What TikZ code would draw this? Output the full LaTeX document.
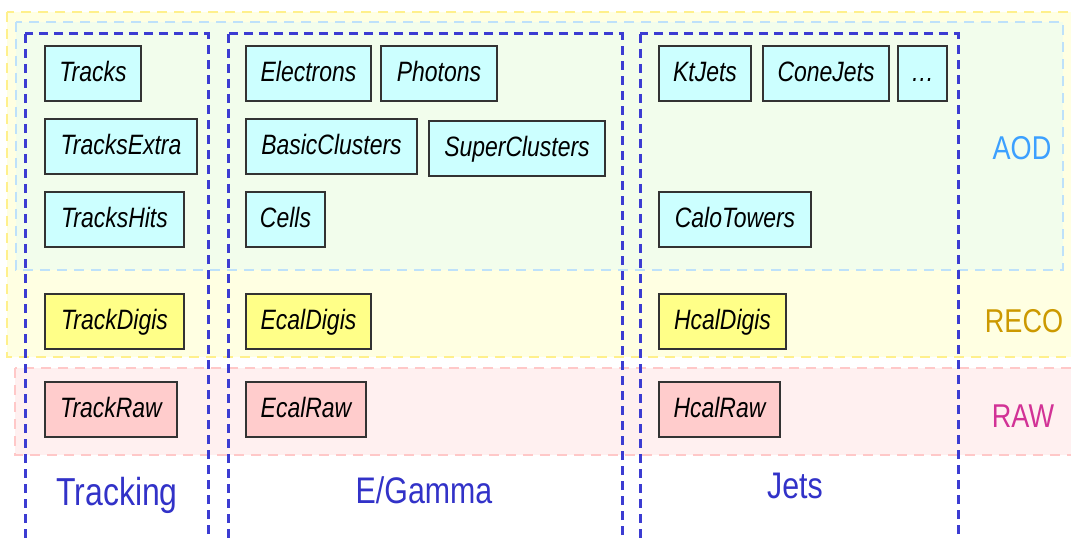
\documentclass[tikz,border=0pt]{standalone}
\usepackage{fontspec}
\setsansfont[FakeStretch=0.82]{Liberation Sans}
\usepackage{xcolor}
\definecolor{aodFill}{RGB}{242,253,236}
\definecolor{aodLine}{RGB}{190,225,250}
\definecolor{recoFill}{RGB}{255,255,226}
\definecolor{recoLine}{RGB}{255,240,140}
\definecolor{rawFill}{RGB}{255,240,240}
\definecolor{rawLine}{RGB}{255,200,200}
\definecolor{grpLine}{RGB}{60,60,210}
\definecolor{cyanBox}{RGB}{204,255,255}
\definecolor{yelBox}{RGB}{255,255,136}
\definecolor{pinkBox}{RGB}{255,204,204}
\definecolor{aodTxt}{RGB}{60,160,255}
\definecolor{recoTxt}{RGB}{204,153,0}
\definecolor{rawTxt}{RGB}{210,50,150}
\definecolor{grpTxt}{RGB}{50,50,200}
\tikzset{
  prod/.style={rectangle, draw=black!80, line width=1.5pt, inner sep=0pt,
               outer sep=0pt, anchor=north west, minimum height=55pt,
               text height=21pt, text depth=5pt,
               font=\sffamily\itshape\fontsize{28}{30}\selectfont},
  aodprod/.style={prod, fill=cyanBox},
  recoprod/.style={prod, fill=yelBox},
  rawprod/.style={prod, fill=pinkBox},
  tier/.style={line width=2.6pt, dash pattern=on 10pt off 7pt},
  group/.style={draw=grpLine, line width=3pt, dash pattern=on 9pt off 6pt},
  tierlbl/.style={anchor=base, inner sep=0pt, font=\sffamily\fontsize{33}{35}\selectfont},
  grouplbl/.style={anchor=base, inner sep=0pt, text=grpTxt},
}
\newcommand{\Prod}[6]{% {style}{name}{x1}{y1}{x2}{text}
  \node[#1, minimum width={#5pt-#3pt}] (#2) at (#3,#4) {#6};}

\begin{document}
\begin{tikzpicture}[x=1pt, y=-1pt]
  \useasboundingbox (0,0) rectangle (1071,540);
  \clip (0,0) rectangle (1071,540);
  % data tiers
  \draw[tier, draw=recoLine, fill=recoFill] (7,12) rectangle (1085,357);
  \draw[tier, draw=aodLine, fill=aodFill] (16,22) rectangle (1063,270);
  \draw[tier, draw=rawLine, fill=rawFill] (15,368) rectangle (1085,455);
  % groups
  \draw[group] (25,34) rectangle (208,560);
  \draw[group] (228,34) rectangle (622,560);
  \draw[group] (640,34) rectangle (958,560);
  % Tracking
  \Prod{aodprod}{trk}{45}{46}{141}{Tracks}
  \Prod{aodprod}{trkx}{45}{119}{197}{TracksExtra}
  \Prod{aodprod}{trkh}{45}{192}{184}{TracksHits}
  \Prod{recoprod}{tdig}{45}{294}{184}{TrackDigis}
  \Prod{rawprod}{traw}{45}{382}{177}{TrackRaw}
  % E/Gamma
  \Prod{aodprod}{ele}{246}{46}{371}{Electrons}
  \Prod{aodprod}{pho}{381}{46}{497}{Photons}
  \Prod{aodprod}{bcl}{246}{119}{417}{BasicClusters}
  \Prod{aodprod}{scl}{429}{121}{605}{SuperClusters}
  \Prod{aodprod}{cel}{246}{192}{325}{Cells}
  \Prod{recoprod}{edig}{246}{294}{371}{EcalDigis}
  \Prod{rawprod}{eraw}{246}{382}{366}{EcalRaw}
  % Jets
  \Prod{aodprod}{ktj}{659}{46}{751}{KtJets}
  \Prod{aodprod}{cnj}{763}{46}{889}{ConeJets}
  \Prod{aodprod}{more}{898}{46}{947}{\ldots}
  \Prod{aodprod}{calo}{659}{192}{811}{CaloTowers}
  \Prod{recoprod}{hdig}{659}{294}{786}{HcalDigis}
  \Prod{rawprod}{hraw}{659}{382}{780}{HcalRaw}
  % labels
  \node[tierlbl, text=aodTxt] (aod) at (1022,160) {AOD};
  \node[tierlbl, text=recoTxt] (reco) at (1024,332) {RECO};
  \node[tierlbl, text=rawTxt] (raw) at (1023,427) {RAW};
  \node[grouplbl, font=\sffamily\fontsize{39}{41}\selectfont] (lTrk) at (117,505) {Tracking};
  \node[grouplbl, font=\sffamily\fontsize{37}{39}\selectfont] (lEg) at (424,503) {E/Gamma};
  \node[grouplbl, font=\sffamily\fontsize{37}{39}\selectfont] (lJet) at (795,498) {Jets};
\end{tikzpicture}
\end{document}
